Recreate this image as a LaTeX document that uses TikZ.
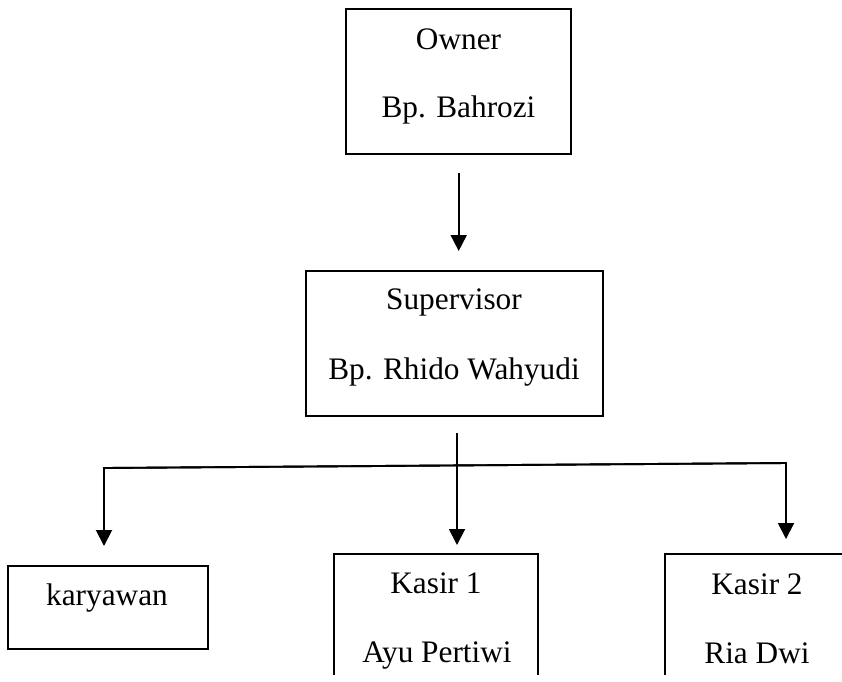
\documentclass[tikz,border=0pt]{standalone}
\usepackage{fontspec}
\setmainfont{Liberation Serif}
\usetikzlibrary{arrows.meta}
\begin{document}
\begin{tikzpicture}[x=1pt,y=-1pt,
  box/.style={draw,line width=1.8pt,inner sep=0pt},
  lbl/.style={anchor=base,inner sep=0pt,font=\fontsize{31.3}{36}\selectfont},
  arr/.style={line width=1.9pt,line join=miter,-{Triangle[width=16pt,length=16pt]}},
  link/.style={line width=1.8pt}]
\path[use as bounding box] (0,0) rectangle (842,681);
% boxes
\node[box,minimum width=225pt,minimum height=145pt] (owner) at (458.5,81.5) {};
\node[box,minimum width=297pt,minimum height=145pt] (sup) at (454.5,343.5) {};
\node[box,minimum width=200pt,minimum height=83pt] (kar) at (108,607.5) {};
\begin{scope}
\clip (0,0) rectangle (842,674);
\node[box,minimum width=204pt,minimum height=166pt] (kasA) at (436,637) {};
\node[box,minimum width=185pt,minimum height=166pt] (kasB) at (757.5,637) {};
\end{scope}
% texts
\node[lbl] (ownerT) at (458.5,49) {Owner};
\node[lbl] (ownerN) at (458.5,117) {Bp. Bahrozi};
\node[lbl] (supT) at (454,309) {Supervisor};
\node[lbl] (supN) at (454,379) {Bp. Rhido Wahyudi};
\node[lbl] (karT) at (107,605) {karyawan};
\node[lbl] (kasAT) at (436,593) {Kasir 1};
\node[lbl] (kasAN) at (437,662) {Ayu Pertiwi};
\node[lbl] (kasBT) at (757,594) {Kasir 2};
\node[lbl] (kasBN) at (757,663) {Ria Dwi};
% connector coordinates
\coordinate (oStart) at (458.7,173);
\coordinate (oTip) at (458.7,251);
\coordinate (split) at (457,433);
\coordinate (kasATip) at (457,545);
\coordinate (jL) at (104,468);
\coordinate (jR) at (786,463);
\coordinate (karTip) at (104,546);
\coordinate (kasBTip) at (786,539);
% connectors
\draw[arr] (oStart) -- (oTip);
\draw[arr] (split) -- (kasATip);
\draw[arr] (jR) -- (jL) -- (karTip);
\draw[arr] (jL) -- (jR) -- (kasBTip);
\end{tikzpicture}
\end{document}
